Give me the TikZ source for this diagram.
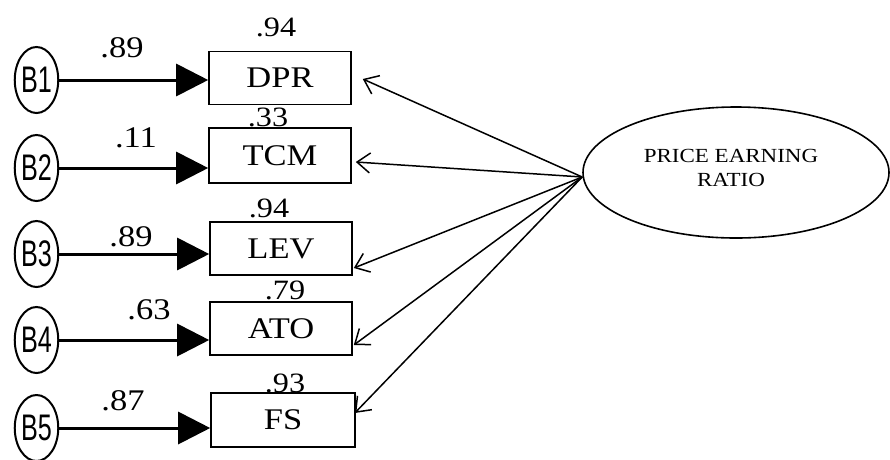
\documentclass[tikz,border=0pt]{standalone}
\usepackage{fontspec}
\setmainfont{Liberation Serif}
\newfontfamily\bsans{Liberation Sans}
\usetikzlibrary{arrows.meta,shapes.geometric,calc}
\newcommand{\hwide}[1]{\scalebox{1.15}[1]{#1}}
\newcommand{\bnarrow}[1]{\scalebox{0.68}[1]{#1}}
\begin{document}
\begin{tikzpicture}[x=1pt,y=-1pt,
  obs/.style={draw, line width=1.6pt, minimum width=142pt, minimum height=53pt, inner sep=0pt, font=\fontsize{30}{30}\selectfont},
  err/.style={draw, ellipse, line width=2pt, minimum width=43pt, minimum height=66pt, inner sep=0pt, font=\bsans\fontsize{37}{37}\selectfont},
  lat/.style={draw, ellipse, line width=1.6pt, minimum width=306pt, minimum height=131pt, inner sep=0pt},
  lbl/.style={inner sep=0pt, font=\fontsize{30}{30}\selectfont},
  bar/.style={line width=3pt, -{Triangle[length=32pt,width=32pt]}},
  load/.style={line width=1.5pt, -{Straight Barb[length=13pt,width=20pt,line width=1.5pt]}}
]
\useasboundingbox (0,0) rectangle (890,459);
\fill[white] (0,0) rectangle (890,459);

% observed boxes
\node[obs] (dpr) at (280,78) {\hwide{DPR}};
\node[obs, minimum height=55pt] (tcm) at (280,155.5) {\hwide{TCM}};
\node[obs] (lev) at (281,248.5) {\hwide{LEV}};
\node[obs] (ato) at (281,328.5) {\hwide{ATO}};
\node[obs, minimum width=144pt, minimum height=54pt] (fs) at (283,420) {\hwide{FS}};

% error circles
\node[err] (b1) at (36.5,80) {\bnarrow{B1}};
\node[err] (b2) at (36.5,168) {\bnarrow{B2}};
\node[err] (b3) at (36.5,254) {\bnarrow{B3}};
\node[err] (b4) at (36.5,340) {\bnarrow{B4}};
\node[err] (b5) at (36.5,428) {\bnarrow{B5}};

% latent
\node[lat] (pe) at (736,172.5) {};
\node[inner sep=0pt, align=center, font=\fontsize{20}{24}\selectfont] (pet) at (731,168) {\hwide{PRICE EARNING}\\\hwide{RATIO}};

% error paths
\draw[bar] (b1) -- (b1 -| dpr.west);
\draw[bar] (b2) -- (b2 -| tcm.west);
\draw[bar] (b3) -- (b3 -| lev.west);
\draw[bar] (b4) -- (b4 -| ato.west);
\draw[bar] (b5) -- (b5 -| fs.west);

% loadings
\coordinate (src) at ($(pe.west)+(0,4.5)$);
\draw[load] (src) -- ($(dpr.east)+(11,1)$);
\draw[load] (src) -- ($(tcm.east)+(4,6.5)$);
\draw[load] (src) -- ($(lev.east)+(1,19.5)$);
\draw[load] (src) -- ($(ato.east)+(1,16.5)$);
\draw[load] (src) -- ($(fs.east)+(-1,-7)$);

% path labels
\node[lbl] (l1) at (122,48) {\hwide{.89}};
\node[lbl] (l2) at (136,138) {\hwide{.11}};
\node[lbl] (l3) at (131,237) {\hwide{.89}};
\node[lbl] (l4) at (149,310) {\hwide{.63}};
\node[lbl] (l5) at (123,401) {\hwide{.87}};

% R-square labels
\node[lbl, font=\fontsize{28}{28}\selectfont] (r1) at (276,27) {\hwide{.94}};
\node[lbl, font=\fontsize{28}{28}\selectfont] (r2) at (268,117) {\hwide{.33}};
\node[lbl, font=\fontsize{28}{28}\selectfont] (r3) at (269,208) {\hwide{.94}};
\node[lbl, font=\fontsize{28}{28}\selectfont] (r4) at (285,290) {\hwide{.79}};
\node[lbl, font=\fontsize{28}{28}\selectfont] (r5) at (285,383) {\hwide{.93}};
\end{tikzpicture}
\end{document}
